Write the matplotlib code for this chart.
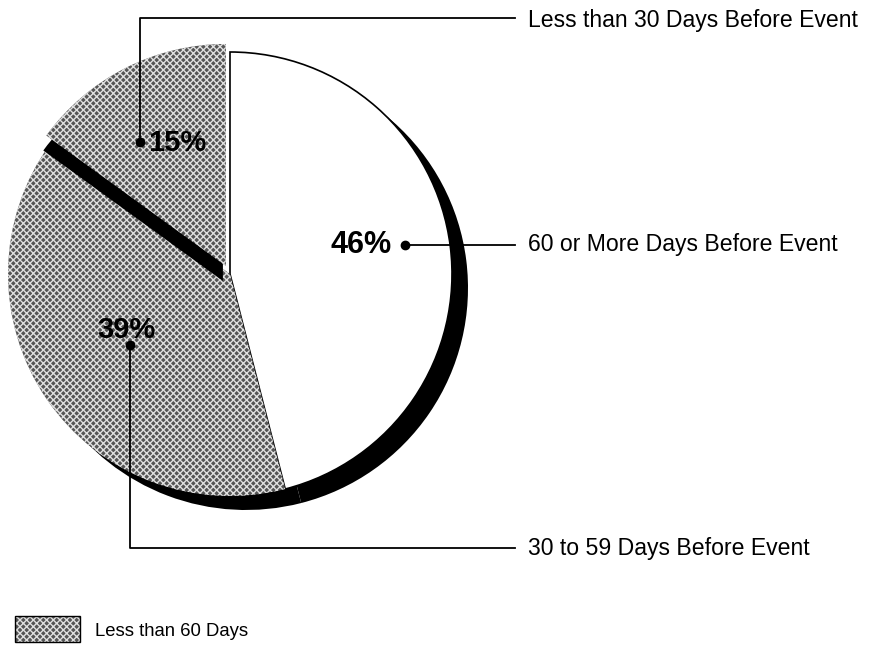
import matplotlib.pyplot as plt
from matplotlib.patches import Rectangle

plt.rcParams['font.family'] = ['Liberation Sans', 'DejaVu Sans']
plt.rcParams['hatch.linewidth'] = 1.0

# share of responses by timing (clockwise from top)
categories = ['60 or More Days Before Event', '30 to 59 Days Before Event',
              'Less than 30 Days Before Event']
shares = [46, 39, 15]
pct_labels = ['46%', '39%', '15%']
legend_label = 'Less than 60 Days'

grey = '#555555'
hatch_col = '#e0e0e0'
colors = ['white', grey, grey]
hatches = [None, 'xxxxx', 'xxxxx']
explode = [0, 0, 9]

fig = plt.figure(figsize=(8.87, 6.47), dpi=100)
ax = fig.add_axes([0, 0, 1, 1])

cx, cy, r = 230, 373, 222

# drop shadow: white and 39% slices shift right/down, 15% slice shifts down
shadow, _ = ax.pie(shares, startangle=90, counterclock=False, explode=explode,
                   center=(cx, cy), radius=r, colors=['black'] * 3,
                   wedgeprops=dict(linewidth=0))
for w, (dx, dy) in zip(shadow, [(16, -14), (16, -14), (-3, -15)]):
    xc, yc = w.center
    w.set_center((xc + dx, yc + dy))
    w.set_zorder(1)

wedges, _ = ax.pie(shares, startangle=90, counterclock=False, explode=explode,
                   center=(cx, cy), radius=r, colors=colors,
                   wedgeprops=dict(edgecolor='black', linewidth=1.2))
for w, h in zip(wedges, hatches):
    w.set_zorder(2)
    if h:
        w.set_hatch(h)
        w.set_edgecolor(hatch_col)
        w.set_linewidth(0)
# the 15% slice casts its shadow onto the 39% slice
shadow[2].set_zorder(3)
wedges[2].set_zorder(4)

ax.set_xlim(0, 887)
ax.set_ylim(0, 647)
ax.set_aspect('equal')
ax.axis('off')

# leader lines and labels
lw = 1.3
# 15% -> top
ax.plot([140, 140, 515], [647 - 140, 647 - 18, 647 - 18], color='black', lw=lw, zorder=5)
ax.plot(140, 647 - 142, 'o', color='black', ms=6, zorder=5)
ax.text(148, 647 - 143, pct_labels[2], fontsize=21, fontweight='bold',
        va='center', ha='left', zorder=6)
ax.text(528, 647 - 20, categories[2], fontsize=16.6, va='center', ha='left')

# 46% -> right
ax.plot([405, 515], [647 - 245, 647 - 245], color='black', lw=lw, zorder=5)
ax.plot(405, 647 - 245, 'o', color='black', ms=6, zorder=5)
ax.text(392, 647 - 245, pct_labels[0], fontsize=22, fontweight='bold',
        va='center', ha='right', zorder=6)
ax.text(528, 647 - 245, categories[0], fontsize=16.6, va='center', ha='left')

# 39% -> bottom
ax.plot([130, 130, 515], [647 - 345, 647 - 548, 647 - 548], color='black', lw=lw, zorder=5)
ax.plot(130, 647 - 345, 'o', color='black', ms=6, zorder=5)
ax.text(126, 647 - 330, pct_labels[1], fontsize=21, fontweight='bold',
        va='center', ha='center', zorder=6)
ax.text(528, 647 - 548, categories[1], fontsize=16.6, va='center', ha='left')

# legend
ax.add_patch(Rectangle((15, 647 - 642), 65, 26, facecolor=grey,
                       hatch='xxxxx', edgecolor=hatch_col, linewidth=0))
ax.add_patch(Rectangle((15, 647 - 642), 65, 26, fill=False,
                       edgecolor='black', linewidth=1))
ax.text(95, 647 - 632, legend_label, fontsize=13.3, va='center', ha='left')

fig.savefig('out.png', dpi=100)
